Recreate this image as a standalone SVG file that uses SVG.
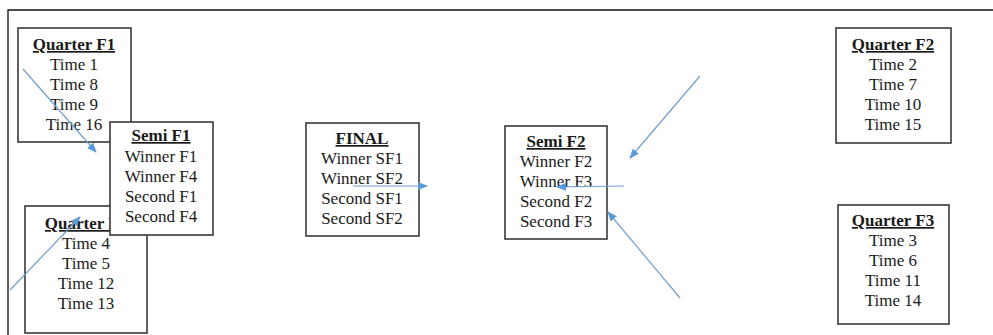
<svg xmlns="http://www.w3.org/2000/svg" width="993" height="335" viewBox="0 0 993 335">
<style>
.box{fill:#fff;stroke:#3a3a3a;stroke-width:1.6}
.t{font-family:"Liberation Serif","Times New Roman",serif;font-size:17px;fill:#1a1a1a;text-anchor:middle}
.h{font-weight:bold;text-decoration:underline}
.c{stroke:#6f9fd0;stroke-width:1.2;fill:none;marker-end:url(#ah)}
</style>
<defs>
<marker id="ah" markerUnits="userSpaceOnUse" markerWidth="10" markerHeight="8" refX="9" refY="4" orient="auto">
<path d="M0,0 L10,4 L0,8 z" fill="#5b9bd5"/>
</marker>
</defs>
<rect width="993" height="335" fill="#fff"/>
<path d="M8,335 V10 H993" fill="none" stroke="#111" stroke-width="1.3"/>
<g id="quarterF1">
<rect class="box" x="18" y="28" width="113" height="114"/>
<text class="t h" x="74" y="50">Quarter F1</text>
<text class="t" x="74" y="70">Time 1</text>
<text class="t" x="74" y="90">Time 8</text>
<text class="t" x="74" y="110">Time 9</text>
<text class="t" x="74" y="130">Time 16</text>
</g>
<g id="quarterF4">
<rect class="box" x="25" y="206" width="122" height="127"/>
<text class="t h" x="86" y="229">Quarter F4</text>
<text class="t" x="86" y="249">Time 4</text>
<text class="t" x="86" y="269">Time 5</text>
<text class="t" x="86" y="289">Time 12</text>
<text class="t" x="86" y="309">Time 13</text>
</g>
<g id="semiF1">
<rect class="box" x="110" y="122" width="103" height="113"/>
<text class="t h" x="161" y="141">Semi F1</text>
<text class="t" x="161" y="162">Winner F1</text>
<text class="t" x="161" y="182">Winner F4</text>
<text class="t" x="161" y="202">Second F1</text>
<text class="t" x="161" y="222">Second F4</text>
</g>
<g id="final">
<rect class="box" x="306" y="123" width="113" height="113"/>
<text class="t h" x="362" y="144">FINAL</text>
<text class="t" x="362" y="164">Winner SF1</text>
<text class="t" x="362" y="184">Winner SF2</text>
<text class="t" x="362" y="204">Second SF1</text>
<text class="t" x="362" y="224">Second SF2</text>
</g>
<g id="semiF2">
<rect class="box" x="505" y="126" width="102" height="113"/>
<text class="t h" x="556" y="147">Semi F2</text>
<text class="t" x="556" y="167">Winner F2</text>
<text class="t" x="556" y="187">Winner F3</text>
<text class="t" x="556" y="207">Second F2</text>
<text class="t" x="556" y="227">Second F3</text>
</g>
<g id="quarterF2">
<rect class="box" x="836" y="28" width="115" height="115"/>
<text class="t h" x="893" y="50">Quarter F2</text>
<text class="t" x="893" y="70">Time 2</text>
<text class="t" x="893" y="90">Time 7</text>
<text class="t" x="893" y="110">Time 10</text>
<text class="t" x="893" y="130">Time 15</text>
</g>
<g id="quarterF3">
<rect class="box" x="838" y="205" width="111" height="119"/>
<text class="t h" x="893" y="226">Quarter F3</text>
<text class="t" x="893" y="246">Time 3</text>
<text class="t" x="893" y="266">Time 6</text>
<text class="t" x="893" y="286">Time 11</text>
<text class="t" x="893" y="306">Time 14</text>
</g>
<g id="connectors">
<line class="c" x1="23" y1="69" x2="96" y2="152"/>
<line class="c" x1="10" y1="290" x2="80" y2="217"/>
<line class="c" x1="353" y1="186" x2="427" y2="186"/>
<line class="c" x1="624" y1="186" x2="557" y2="187"/>
<line class="c" x1="700" y1="76" x2="630" y2="158"/>
<line class="c" x1="680" y1="298" x2="608" y2="212"/>
</g>
</svg>
